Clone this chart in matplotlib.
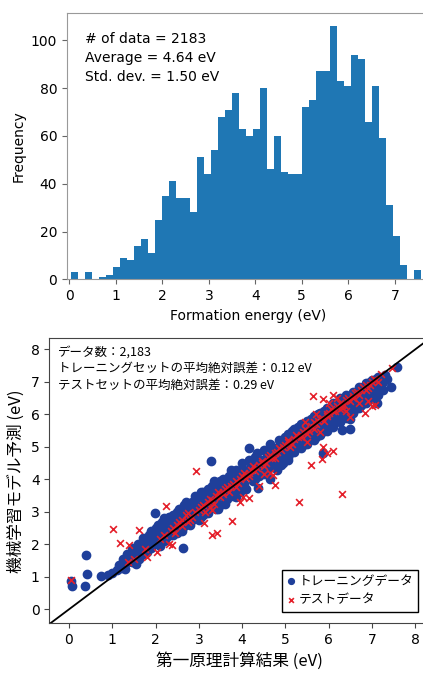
import numpy as np
import matplotlib
matplotlib.use('Agg')
import matplotlib.pyplot as plt

# histogram of formation energy (50 bins)
bin_start = 0.036
bin_width = 0.1505
counts = [3, 0, 3, 0, 1, 2, 5, 9, 8, 14, 17, 11, 25, 35, 41, 34, 34, 28, 51, 44,
          54, 68, 71, 78, 63, 60, 63, 80, 46, 60, 45, 44, 44, 72, 75, 87, 87, 106, 83, 81,
          94, 92, 66, 81, 59, 31, 18, 6, 0, 4]
hist_text = ["# of data = 2183", "Average = 4.64 eV", "Std. dev. = 1.50 eV"]

# parity plot points (DFT, ML prediction) in eV, read approximately
train_x = [0.06, 0.04, 0.39, 0.42, 0.37, 0.75, 0.90, 1.00, 1.10, 1.15, 1.20, 1.30, 1.25, 1.35, 1.40,
           1.45, 1.50, 1.55, 1.60, 1.62, 1.70, 1.70, 1.75, 1.80, 1.85, 1.90, 1.95, 2.00, 1.99, 2.05,
           2.10, 2.15, 2.20, 2.25, 2.30, 2.35, 2.40, 2.45, 2.50, 2.55, 2.60, 2.63, 2.65, 2.70, 2.75,
           2.80, 2.85, 2.90, 2.95, 3.00, 3.00, 3.05, 3.10, 3.15, 3.20, 3.27, 3.25, 3.30, 3.35, 3.40,
           3.45, 3.50, 3.55, 3.60, 3.65, 3.70, 3.75, 3.80, 3.85, 3.90, 3.95, 4.00, 4.05, 4.10, 4.16,
           4.20, 4.25, 4.30, 4.37, 4.40, 4.45, 4.50, 4.55, 4.60, 4.65, 4.70, 4.75, 4.80, 4.85, 4.90,
           4.95, 5.00, 5.00, 5.05, 5.10, 5.15, 5.20, 5.25, 5.30, 5.35, 5.40, 5.45, 5.50, 5.55, 5.60,
           5.65, 5.70, 5.75, 5.80, 5.85, 5.87, 5.90, 5.95, 6.00, 6.05, 6.10, 6.15, 6.20, 6.25, 6.30,
           6.30, 6.35, 6.40, 6.45, 6.49, 6.50, 6.50, 6.55, 6.60, 6.65, 6.70, 6.75, 6.80, 6.85, 6.90,
           6.95, 7.00, 7.05, 7.10, 7.12, 7.15, 7.20, 7.43, 7.57, 7.30, 7.25,
           1.95, 2.10, 2.25, 2.40, 2.55, 2.70, 2.85, 3.00, 3.15, 3.30, 3.45, 3.60, 3.75, 3.90, 4.05,
           4.20, 4.35, 4.50, 4.65, 4.80, 4.95, 5.10, 5.25, 5.40, 5.55, 5.70, 5.85, 6.00, 6.15, 6.30,
           6.45, 6.60, 6.75, 6.90, 7.05, 2.20, 2.60, 3.05, 3.40, 3.85, 4.25, 4.60, 5.05, 5.45, 5.90,
           6.35, 6.80,
           1.30, 1.45, 1.55, 1.65, 1.80, 1.85, 1.90, 2.00, 2.05, 2.10,
           2.15, 2.20, 2.30, 2.35, 2.40, 2.45, 2.50, 2.55, 2.60, 2.65, 2.70, 2.75, 2.80, 2.85, 2.90,
           2.95, 3.00, 3.05, 3.10, 3.15, 3.20, 3.25, 3.30, 3.35, 3.40, 3.45, 3.50, 3.55, 3.60, 3.65,
           3.70, 3.75, 3.80, 3.85, 3.90, 3.95, 4.00, 4.05, 4.10, 4.15, 4.20, 4.25, 4.30, 4.35, 4.40,
           4.45, 4.50, 4.55, 4.60, 4.65, 4.70, 4.75, 4.80, 4.85, 4.90, 4.95, 5.00, 5.05, 5.10, 5.15,
           5.20, 5.25, 5.30, 5.35, 5.40, 5.45, 5.50, 5.55, 5.60, 5.65, 5.70, 5.75, 5.80, 5.85, 5.90,
           5.95, 6.00, 6.05, 6.10, 6.15, 6.20, 6.25, 6.30, 6.35, 6.40, 6.45, 6.50, 6.55, 6.60, 6.65,
           6.70, 6.75, 6.80, 6.85, 6.90, 6.95, 7.00, 7.05, 7.10, 7.15, 7.20, 7.25, 7.35, 7.00, 7.10]
train_y = [0.72, 0.88, 1.66, 1.08, 0.72, 1.03, 1.05, 1.12, 1.20, 1.35, 1.28, 1.40, 1.55, 1.70, 1.50,
           1.90, 1.62, 1.80, 2.00, 1.55, 1.90, 2.20, 1.70, 2.05, 2.30, 1.90, 2.15, 2.50, 2.96, 2.00,
           2.30, 2.70, 2.45, 2.20, 2.85, 2.50, 2.30, 2.75, 3.00, 2.55, 2.40, 1.88, 3.20, 2.80, 3.05,
           2.60, 3.30, 2.90, 3.15, 3.40, 2.75, 3.05, 3.60, 3.25, 2.95, 4.56, 3.50, 3.80, 3.30, 3.65,
           3.10, 3.95, 3.50, 3.25, 3.80, 4.10, 3.55, 3.90, 4.30, 3.70, 4.05, 4.50, 3.85, 4.20, 4.95,
           4.40, 3.95, 4.70, 3.74, 4.30, 4.60, 4.15, 4.85, 4.45, 4.00, 5.00, 4.60, 4.30, 5.20, 4.75,
           4.50, 5.30, 4.90, 4.60, 5.15, 5.50, 4.85, 5.25, 5.60, 4.95, 5.35, 5.70, 5.10, 5.50, 5.85,
           5.20, 5.60, 6.00, 5.35, 5.70, 4.80, 6.10, 5.50, 5.85, 6.20, 5.60, 6.00, 6.35, 5.75, 5.52,
           6.10, 6.45, 5.90, 6.25, 5.85, 5.55, 6.55, 6.05, 6.40, 6.70, 6.20, 6.50, 6.85, 6.35, 6.65,
           7.00, 6.50, 6.80, 7.10, 6.34, 6.60, 6.90, 6.85, 7.47, 7.20, 6.75,
           2.35, 2.55, 2.60, 2.65, 2.85, 2.95, 3.05, 3.20, 3.40, 3.50, 3.65, 3.80, 3.95, 4.10, 4.20,
           4.30, 4.45, 4.60, 4.75, 4.85, 5.00, 5.05, 5.15, 5.30, 5.40, 5.45, 5.60, 5.70, 5.80, 5.95,
           6.10, 6.20, 6.30, 6.45, 6.60, 2.10, 2.75, 2.85, 3.10, 3.45, 4.00, 4.35, 4.70, 5.10, 5.55,
           6.05, 6.50,
           1.25, 1.45, 1.40, 1.75, 1.75, 2.00, 2.40, 2.20, 2.60, 1.95,
           2.40, 2.80, 2.60, 2.30, 2.90, 2.50, 2.35, 3.10, 2.80, 2.55, 3.30, 2.70, 3.10, 2.75, 3.50,
           2.85, 3.20, 3.60, 2.90, 3.45, 3.70, 3.15, 3.50, 3.95, 3.30, 3.80, 3.20, 4.00, 3.60, 3.40,
           3.90, 4.30, 3.50, 3.70, 4.25, 3.60, 4.00, 4.30, 3.70, 4.60, 4.10, 4.50, 4.00, 4.80, 4.10,
           4.40, 4.90, 4.30, 4.65, 5.10, 4.40, 4.85, 4.55, 5.00, 4.45, 5.10, 4.70, 5.40, 4.80, 5.20,
           5.55, 5.00, 5.35, 5.70, 5.10, 5.50, 5.80, 5.25, 5.55, 5.95, 5.30, 5.70, 6.05, 5.45, 5.85,
           6.20, 5.60, 6.00, 6.35, 5.75, 6.15, 6.50, 5.90, 6.25, 6.60, 6.00, 6.35, 6.70, 6.15, 6.50,
           6.85, 6.30, 6.60, 6.95, 6.45, 6.75, 7.05, 6.60, 6.90, 7.15, 6.75, 7.00, 7.10, 6.85, 6.65]
test_x = [0.04, 1.01, 1.18, 1.39, 1.61, 1.37, 1.50, 1.75, 1.80, 2.03, 2.10, 2.23, 2.30, 2.39, 2.40,
          2.50, 2.60, 2.70, 2.80, 2.93, 2.90, 3.00, 3.12, 3.30, 3.41, 3.10, 3.20, 3.30, 3.40, 3.50,
          3.60, 3.76, 3.70, 3.80, 3.90, 3.95, 4.01, 4.16, 4.00, 4.10, 4.20, 4.30, 4.39, 4.40, 4.50,
          4.64, 4.60, 4.72, 4.77, 4.70, 4.80, 4.90, 5.00, 5.10, 5.20, 5.31, 5.30, 5.40, 5.50, 5.60,
          5.60, 5.63, 5.70, 5.80, 5.84, 5.86, 5.90, 5.97, 6.00, 6.10, 6.10, 6.20, 6.31, 6.30, 6.40,
          6.50, 6.60, 6.70, 6.80, 6.90, 6.99, 7.00, 7.10, 7.47,
          2.55, 2.75, 3.25, 3.55, 3.85, 4.15, 4.45, 4.75, 5.05, 5.35, 5.65, 5.95, 6.25, 6.55, 6.85,
          2.20, 2.35, 2.45, 2.60, 2.75, 2.85, 3.05, 3.15, 3.25, 3.35, 3.45, 3.55, 3.65, 3.75, 3.85,
          3.95, 4.05, 4.15, 4.25, 4.35, 4.45, 4.55, 4.65, 4.75, 4.85, 4.95, 5.05, 5.15, 5.25, 5.35,
          5.45, 5.55, 5.65, 5.75, 5.85, 5.95, 6.05, 6.15, 6.25, 6.35, 6.45, 6.55, 6.65, 6.75, 6.85,
          6.95, 7.05, 7.15, 7.20, 6.40, 6.70, 6.90, 5.50, 5.80, 4.50, 3.30, 5.45, 5.70, 6.00, 6.20,
          6.10, 6.30, 5.87, 6.49, 6.84, 7.07]
test_y = [0.90, 2.47, 2.03, 1.98, 2.43, 1.46, 1.55, 1.85, 1.60, 1.77, 2.15, 3.19, 2.02, 1.98, 2.50,
          2.60, 2.55, 2.90, 2.75, 4.26, 3.00, 3.05, 2.65, 2.30, 2.34, 3.20, 3.30, 3.35, 3.50, 3.45,
          3.70, 2.73, 3.60, 3.85, 3.90, 3.31, 3.46, 3.43, 4.10, 4.05, 4.30, 4.25, 3.81, 4.45, 4.40,
          4.18, 4.70, 4.14, 3.82, 4.65, 4.85, 4.90, 5.05, 5.00, 5.25, 3.31, 5.30, 5.45, 5.40, 4.44,
          5.65, 6.56, 5.70, 5.85, 4.62, 6.46, 5.80, 4.82, 6.05, 6.10, 4.87, 6.25, 3.54, 6.20, 6.45,
          6.40, 6.65, 6.60, 6.85, 6.80, 6.26, 7.00, 7.05, 7.43,
          2.70, 2.70, 3.15, 3.60, 3.75, 4.20, 4.50, 4.65, 5.15, 5.35, 5.55, 6.00, 6.15, 6.50, 6.75,
          2.30, 2.40, 2.35, 2.75, 2.95, 2.85, 3.15, 3.00, 3.40, 3.25, 3.60, 3.55, 3.75, 3.80, 3.95,
          4.00, 4.20, 4.10, 4.40, 4.35, 4.55, 4.50, 4.75, 4.80, 4.95, 5.00, 5.20, 5.10, 5.35, 5.30,
          5.55, 5.50, 5.75, 5.80, 5.90, 5.95, 6.15, 6.10, 6.35, 6.30, 6.50, 6.55, 6.70, 6.75, 6.90,
          6.90, 7.10, 7.00, 7.25, 6.10, 6.35, 6.40, 5.15, 5.45, 4.15, 3.05, 5.75, 6.00, 6.35, 6.50,
          6.60, 6.29, 5.00, 5.93, 6.03, 6.29]
parity_text = ["データ数：2,183",
               "トレーニングセットの平均絶対誤差：0.12 eV",
               "テストセットの平均絶対誤差：0.29 eV"]

jp = ['Noto Sans CJK JP', 'DejaVu Sans']

fig = plt.figure(figsize=(4.23, 6.73), dpi=100)

# --- top: histogram
ax1 = fig.add_axes([67/423, (673-279.3)/673, (430-67)/423, (279.3-13.3)/673])
edges = bin_start + bin_width*np.arange(len(counts)+1)
centers = edges[:-1] + bin_width/2
ax1.hist(centers, bins=edges, weights=counts, color='#1f77b4')
ax1.set_xlim(-0.05, (430-69.3)/46.5)
ax1.set_ylim(0, 111.3)
ax1.set_xticks(range(0, 8))
ax1.set_yticks(range(0, 101, 20))
ax1.set_xlabel("Formation energy (eV)", fontsize=10)
ax1.set_ylabel("Frequency", fontsize=10)
ax1.tick_params(labelsize=10, color='#666666')
for sp in ax1.spines.values():
    sp.set_color('#999999')
ax1.text(0.05, 0.93, "\n".join(hist_text), transform=ax1.transAxes, fontsize=10,
         va='top', ha='left', linespacing=1.45)

# --- bottom: parity plot
ax2 = fig.add_axes([49.3/423, (673-623.3)/673, (430-49.3)/423, (623.3-338.3)/673])
ax2.scatter(train_x, train_y, s=36, color='#1f3f9a', label='トレーニングデータ', zorder=2)
ax2.scatter(test_x, test_y, s=24, marker='x', color='#e41f2a', linewidths=1.2,
            label='テストデータ', zorder=3)
ax2.plot([-1, 9], [-1, 9], color='black', lw=1.3, zorder=4)
ax2.set_xlim(-0.455, 8.34)
ax2.set_ylim(-0.43, 8.34)
ax2.set_xticks(range(0, 9))
ax2.set_yticks(range(0, 9))
ax2.tick_params(labelsize=10, color='#444444')
for sp in ax2.spines.values():
    sp.set_color('#444444')
ax2.set_xlabel("第一原理計算結果 (eV)", fontsize=12, family=jp)
ax2.set_ylabel("機械学習モデル予測 (eV)", fontsize=12, family=jp)
ax2.text(0.022, 0.975, "\n".join(parity_text), transform=ax2.transAxes, fontsize=9,
         va='top', ha='left', family=jp, linespacing=1.35)
leg = ax2.legend(loc='lower right', bbox_to_anchor=(0.969, 0.041), borderaxespad=0,
                 prop={'family': jp, 'size': 9.2}, markerscale=0.7,
                 handlelength=0.6, handletextpad=0.25, borderpad=0.4, labelspacing=0.45,
                 fancybox=False, framealpha=1, edgecolor='black')
leg.get_frame().set_linewidth(1.0)

fig.savefig('out.png', dpi=100)
